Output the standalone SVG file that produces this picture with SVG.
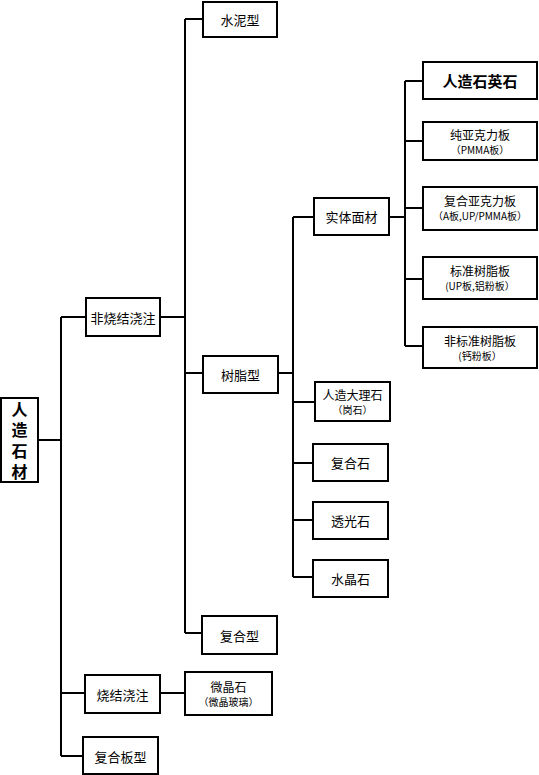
<svg xmlns="http://www.w3.org/2000/svg" width="539" height="775" viewBox="0 0 539 775">
<style>
.b{fill:#fff;stroke:#000;stroke-width:2}
.t{font-family:"Noto Sans CJK SC","Liberation Sans",sans-serif;font-size:13px;fill:#000;text-anchor:middle;dominant-baseline:central}
.m{font-size:12px}
.s{font-size:10px}
.big{font-size:15px;font-weight:bold}
.root{font-size:16px;font-weight:bold;writing-mode:vertical-rl;letter-spacing:5px}
.c{fill:none;stroke:#000;stroke-width:2}
</style>
<rect width="539" height="775" fill="#fff"/>
<g id="connectors" class="c">
<path d="M38,440H61M61,317V756M61,317H86M61,693H85M61,756H83"/>
<path d="M160,317H185M185,19V633M185,19H203M185,373H203M185,633H202"/>
<path d="M160,693H185"/>
<path d="M278,373H293M293,217V577M293,217H314M293,402H315M293,463H313M293,520H313M293,577H313"/>
<path d="M389,217H405M405,81V346M405,81H423M405,141H423M405,208H423M405,279H423M405,346H423"/>
</g>
<g id="root"><rect class="b" x="1" y="398" width="37" height="84"/>
<text class="t root" x="19.5" y="443">人造石材</text></g>
<g id="n_feishao"><rect class="b" x="86" y="298" width="74" height="38"/><text class="t" x="123" y="317">非烧结浇注</text></g>
<g id="n_shaojie"><rect class="b" x="85" y="675" width="75" height="38"/><text class="t" x="122.5" y="694">烧结浇注</text></g>
<g id="n_fuheban"><rect class="b" x="83" y="737" width="75" height="37"/><text class="t" x="120.5" y="756">复合板型</text></g>
<g id="n_shuini"><rect class="b" x="203" y="2" width="74" height="35"/><text class="t" x="240" y="19.5">水泥型</text></g>
<g id="n_shuzhi"><rect class="b" x="203" y="356" width="75" height="37"/><text class="t" x="240.5" y="374.5">树脂型</text></g>
<g id="n_fuhexing"><rect class="b" x="202" y="616" width="75" height="38"/><text class="t" x="239.5" y="635">复合型</text></g>
<g id="n_weijing"><rect class="b" x="185" y="672" width="87" height="43"/><text class="t m" x="228.5" y="686">微晶石</text><text class="t s" x="228.5" y="701">（微晶玻璃）</text></g>
<g id="n_shiti"><rect class="b" x="314" y="198" width="75" height="37"/><text class="t" x="351.5" y="216.5">实体面材</text></g>
<g id="n_dali"><rect class="b" x="315" y="382" width="75" height="39"/><text class="t m" x="352.5" y="394.5">人造大理石</text><text class="t s" x="352.5" y="409.5">（岗石）</text></g>
<g id="n_fuheshi"><rect class="b" x="313" y="444" width="75" height="37"/><text class="t" x="350.5" y="462.5">复合石</text></g>
<g id="n_touguang"><rect class="b" x="313" y="502" width="75" height="37"/><text class="t" x="350.5" y="520.5">透光石</text></g>
<g id="n_shuijing"><rect class="b" x="313" y="560" width="75" height="37"/><text class="t" x="350.5" y="578.5">水晶石</text></g>
<g id="n_shiying"><rect class="b" x="423" y="62" width="114" height="37"/><text class="t big" x="480" y="80.5">人造石英石</text></g>
<g id="n_chunyake"><rect class="b" x="423" y="122" width="114" height="38"/><text class="t m" x="480" y="134">纯亚克力板</text><text class="t s" x="480" y="149">（PMMA板）</text></g>
<g id="n_fuheyake"><rect class="b" x="423" y="187" width="114" height="43"/><text class="t m" x="480" y="200.5">复合亚克力板</text><text class="t s" x="480" y="215.5">（A板,UP/PMMA板）</text></g>
<g id="n_biaozhun"><rect class="b" x="423" y="257" width="114" height="42"/><text class="t m" x="480" y="270.5">标准树脂板</text><text class="t s" x="480" y="285.5">(UP板,铝粉板）</text></g>
<g id="n_feibiao"><rect class="b" x="423" y="327" width="114" height="41"/><text class="t m" x="480" y="340">非标准树脂板</text><text class="t s" x="480" y="355">(钙粉板）</text></g>
</svg>
